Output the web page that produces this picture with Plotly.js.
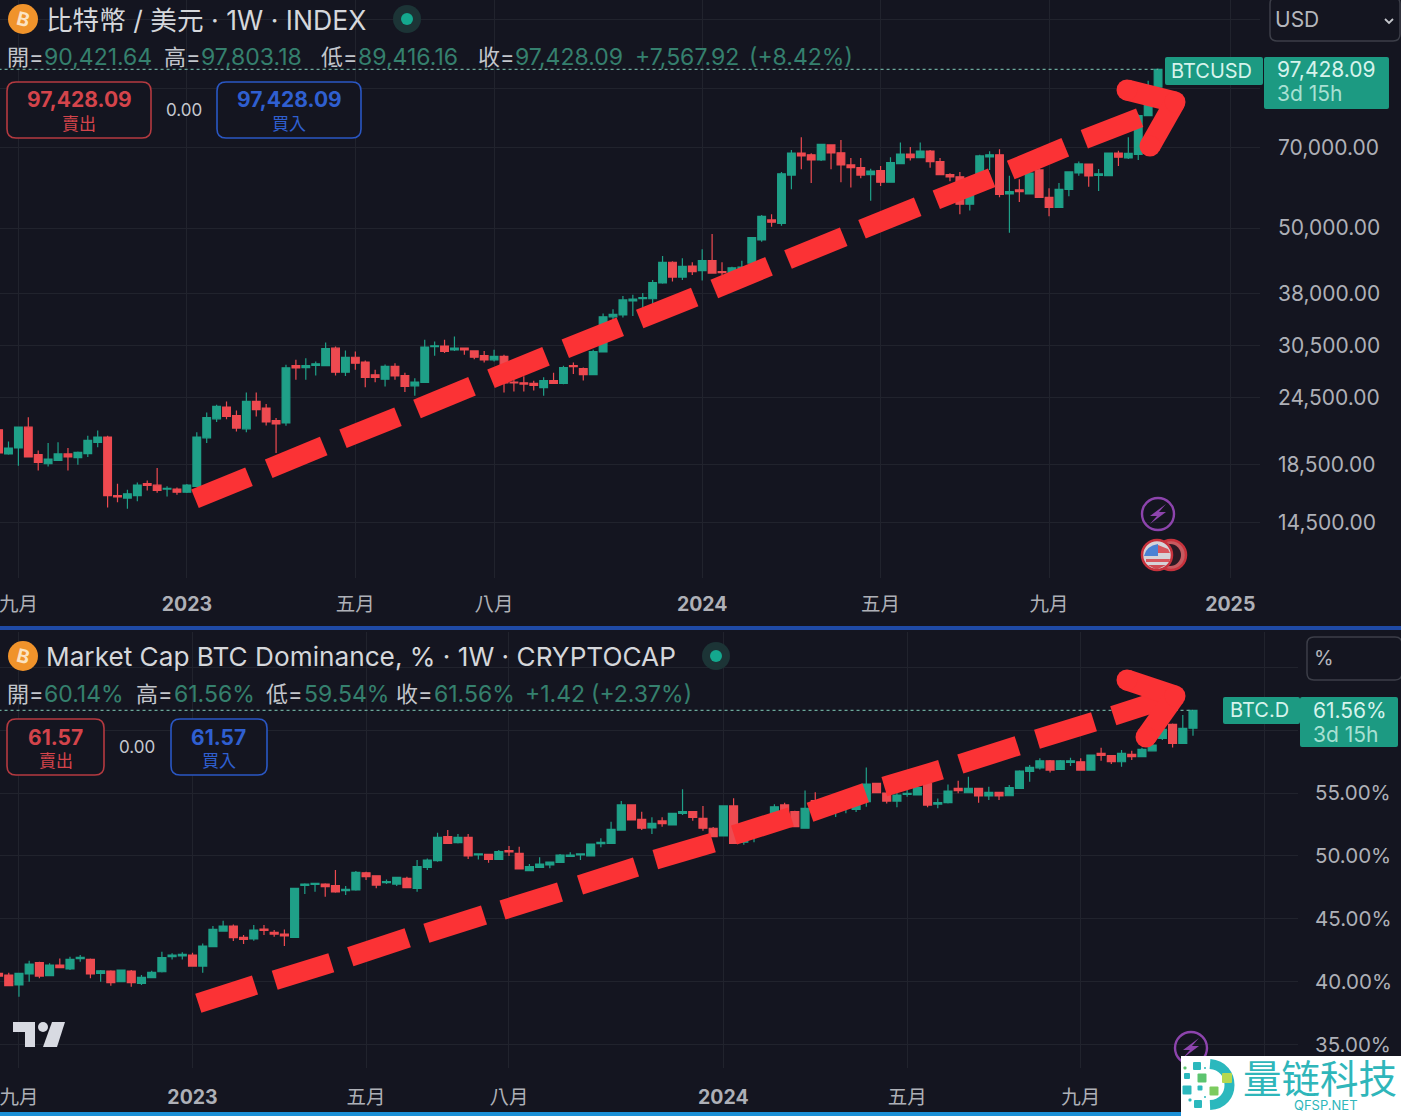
<!DOCTYPE html>
<html><head><meta charset="utf-8">
<script src="https://cdn.plot.ly/plotly-3.0.1.min.js"></script>
<style>html,body{margin:0;padding:0;background:#141520;overflow:hidden}#c{width:1401px;height:1116px}</style>
</head><body><div id="c"></div>
<script>
const weeks = ["2022-08-22","2022-08-29","2022-09-05","2022-09-12","2022-09-19","2022-09-26","2022-10-03","2022-10-10","2022-10-17","2022-10-24","2022-10-31","2022-11-07","2022-11-14","2022-11-21","2022-11-28","2022-12-05","2022-12-12","2022-12-19","2022-12-26",
"2023-01-02","2023-01-09","2023-01-16","2023-01-23","2023-01-30","2023-02-06","2023-02-13","2023-02-20","2023-02-27","2023-03-06","2023-03-13","2023-03-20","2023-03-27","2023-04-03","2023-04-10","2023-04-17","2023-04-24","2023-05-01","2023-05-08","2023-05-15","2023-05-22","2023-05-29","2023-06-05","2023-06-12","2023-06-19","2023-06-26","2023-07-03","2023-07-10","2023-07-17","2023-07-24","2023-07-31","2023-08-07","2023-08-14","2023-08-21","2023-08-28","2023-09-04","2023-09-11","2023-09-18","2023-09-25","2023-10-02","2023-10-09","2023-10-16","2023-10-23","2023-10-30","2023-11-06","2023-11-13","2023-11-20","2023-11-27","2023-12-04","2023-12-11","2023-12-18","2023-12-25",
"2024-01-01","2024-01-08","2024-01-15","2024-01-22","2024-01-29","2024-02-05","2024-02-12","2024-02-19","2024-02-26","2024-03-04","2024-03-11","2024-03-18","2024-03-25","2024-04-01","2024-04-08","2024-04-15","2024-04-22","2024-04-29","2024-05-06","2024-05-13","2024-05-20","2024-05-27","2024-06-03","2024-06-10","2024-06-17","2024-06-24","2024-07-01","2024-07-08","2024-07-15","2024-07-22","2024-07-29","2024-08-05","2024-08-12","2024-08-19","2024-08-26","2024-09-02","2024-09-09","2024-09-16","2024-09-23","2024-09-30","2024-10-07","2024-10-14","2024-10-21","2024-10-28","2024-11-04","2024-11-11","2024-11-18"];

const btcOpen = [21410,19340,19830,21650,19280,18560,18830,19340,19040,19370,20310,20760,16230,16070,16230,17070,16960,16690,16690,
16470,16880,20700,22420,23550,22720,21500,24120,23460,22260,22030,28030,27810,28060,28030,30170,27280,29040,28470,26970,26490,27950,26900,25760,26140,30370,30440,29960,30170,29830,29230,28730,29150,26170,26080,26030,25570,26330,26030,28030,27690,27000,29700,34420,34700,36800,37140,37140,39680,43300,40680,42620,
41810,43590,41630,41460,41800,43120,47560,51730,51000,62460,68530,68000,66560,70900,68570,65170,64420,62600,63630,60600,65560,68220,67200,69100,66100,62600,62000,55250,59900,67400,68000,57700,58670,57700,63820,56850,54500,58820,63000,65400,62400,62330,68530,67130,68100,80200,90421.64];
const btcHigh = [21710,20385,21710,22580,19630,20250,20310,19830,19550,20870,21350,20870,17070,16640,17160,17300,18230,16880,16800,
17050,21180,23020,23790,24120,23220,25040,25040,23870,22490,28130,28730,28930,28530,30910,30370,29870,29750,28650,27550,28160,28330,27220,26600,31250,31030,31250,31700,30250,29900,29830,29960,29350,26410,26820,26300,26690,27220,28030,28400,27810,29960,34900,35530,37580,37750,38030,40200,44470,43500,44050,43300,
45730,48780,43300,42480,43590,48100,52800,52980,63300,69410,73200,68440,71250,71100,72390,67100,67100,64130,64880,67340,71600,70300,71600,69410,67100,62950,63300,60200,68000,69000,69620,62260,61340,65000,64800,59100,60390,63400,66100,65600,64090,68700,69210,73200,80600,92870,97803.18];
const btcLow = [19280,19280,18400,19100,18050,18340,18800,18050,18480,19100,19890,15450,15790,15360,15850,16590,16430,16180,16300,
16420,16830,20250,22130,22390,21260,21180,22640,21810,19420,21780,26410,26410,26900,27950,26900,26850,27550,25610,26140,25680,26410,25100,24700,26080,29230,29550,29830,29350,28810,28400,28530,25040,25160,25160,25260,24700,25950,25920,27080,26330,26950,29620,33510,34340,34550,35700,36350,39570,39910,40200,41040,
40090,41300,41040,40900,41000,42900,47200,50280,50490,58820,64010,60400,66280,64010,60600,59260,61630,56090,59650,60500,65500,66380,67100,64420,62400,60880,52980,53800,59600,63820,56900,49000,55800,57600,56800,52530,54400,57130,62260,59450,58430,62200,64880,66800,66560,80100,89416.16];
const btcClose = [19420,19830,21650,19100,18670,18930,19340,19100,19470,20470,20760,16230,16140,16360,16960,16950,16590,16730,16470,
16970,20760,22540,23620,22640,21560,24120,23290,22130,21950,27780,27780,28030,28250,30120,27280,29040,28330,26670,26690,27950,26850,25680,26170,30300,30480,29750,30170,29960,29040,28730,29150,26080,26080,25950,25810,26330,26030,27810,27910,27000,29750,34420,34780,36960,37070,37320,39760,43300,40680,42570,41630,
43590,41370,41460,42300,42400,48000,52530,51250,62780,68530,67700,66560,71100,68530,65170,64420,62460,63480,60600,65820,68220,67200,69100,66100,62600,62000,55250,59900,67700,68000,57600,58250,58250,62950,56850,54500,58820,63300,65450,62260,62780,68530,67340,68400,80200,90421.64,97428.09];

const domOpen = [40.68,40.55,39.76,40.63,41.53,40.50,41.34,41.03,41.85,41.79,40.68,40.87,40.02,40.87,39.89,40.34,40.81,42.00,42.06,
42.14,41.26,42.80,44.04,44.44,43.54,43.41,44.20,43.94,43.80,43.54,47.67,47.75,47.77,47.64,47.24,47.30,48.67,48.43,47.88,47.77,48.22,47.43,49.10,49.63,51.53,51.06,51.48,50.08,50.13,49.73,50.42,50.21,48.84,49.10,49.29,49.50,49.97,50.08,50.00,50.98,51.00,52.06,54.05,52.91,52.22,52.78,52.46,53.39,53.52,52.99,52.20,
51.59,53.97,51.10,51.80,52.20,52.60,54.05,53.52,52.20,54.40,53.50,53.90,53.90,53.70,54.31,55.76,55.00,54.36,54.89,54.84,55.76,54.12,54.23,55.36,55.02,55.36,54.76,55.05,54.78,55.36,56.71,57.00,57.56,56.87,57.43,57.48,56.82,58.14,57.96,57.48,58.06,57.88,58.35,59.33,60.44,58.94,60.14];
const domHigh = [40.74,40.74,40.74,41.69,41.61,41.48,41.87,42.00,42.14,41.87,40.95,40.92,40.98,40.95,40.55,40.89,42.40,42.27,42.35,
42.32,43.06,44.44,44.86,44.57,43.73,44.52,44.52,44.12,44.17,47.48,47.83,47.88,47.83,48.89,47.61,48.81,48.75,48.48,48.14,48.35,48.36,49.68,49.81,51.85,52.06,51.75,51.75,50.18,50.18,50.48,50.79,50.74,49.36,49.89,49.55,50.16,50.29,50.18,50.98,51.40,52.72,54.37,54.10,53.52,53.07,53.07,53.42,55.29,53.55,53.97,52.30,
54.00,54.58,52.20,52.30,52.90,54.10,54.23,53.60,55.19,55.05,54.10,54.40,54.50,54.50,57.03,55.81,55.20,55.00,55.23,55.60,55.90,54.57,55.68,55.97,56.29,55.40,55.50,55.10,55.63,56.80,57.22,57.75,57.62,57.62,57.80,57.75,58.05,58.59,58.00,58.41,58.35,58.60,59.00,60.30,60.52,61.19,61.56];
const domLow = [40.42,39.65,38.83,40.02,40.29,40.47,41.08,40.95,41.61,40.29,40.02,39.70,39.98,39.62,39.76,40.30,40.76,41.79,41.79,
41.24,40.74,42.76,43.99,43.25,43.01,43.27,43.73,43.59,42.85,43.50,46.98,47.16,46.77,47.09,46.90,47.24,48.09,47.43,47.77,47.61,47.43,47.16,48.89,49.55,50.98,51.00,49.76,49.73,49.47,49.70,50.00,48.94,48.82,49.07,49.02,49.47,49.95,49.68,49.98,50.69,50.98,52.04,52.84,52.06,51.75,52.33,52.43,53.25,52.80,52.01,51.50,
51.55,50.95,50.90,51.10,52.00,52.30,52.50,52.30,52.18,53.50,53.20,53.10,53.40,53.50,53.91,54.97,54.17,53.86,54.70,54.80,53.86,53.78,54.17,54.97,54.97,54.23,54.44,54.44,54.75,55.32,55.89,56.87,56.63,56.82,57.14,56.80,56.80,57.56,57.30,57.08,57.61,57.85,58.30,59.20,58.62,58.88,59.54];
const domClose = [40.47,39.70,40.68,41.42,40.47,41.34,41.13,41.79,41.95,40.63,40.89,39.94,40.95,39.94,40.37,40.76,41.93,42.14,42.19,
41.26,42.85,44.17,44.44,43.51,43.38,44.12,44.10,43.80,43.65,47.43,47.77,47.83,47.56,47.14,47.35,48.70,48.36,47.69,47.96,48.30,47.48,49.15,49.68,51.48,51.00,51.48,50.00,50.16,49.73,50.34,50.32,48.97,49.15,49.36,49.52,50.08,50.08,50.16,50.95,51.08,52.12,54.05,52.86,52.20,52.59,52.57,53.39,53.52,53.07,52.20,51.53,
53.97,51.00,51.90,52.20,52.60,53.90,53.00,52.33,53.78,53.80,54.00,54.20,54.30,54.40,55.71,55.02,54.36,54.84,54.97,55.42,54.04,54.23,55.15,55.18,55.36,54.76,55.05,54.76,55.42,56.74,57.03,57.56,56.82,57.56,57.56,56.82,58.01,57.98,57.48,58.14,57.88,58.46,58.80,60.05,58.94,60.13,61.56];

const priceTicks = [120000,90000,70000,50000,38000,30500,24500,18500,14500];
const priceTickText = ["","","70,000.00","50,000.00","38,000.00","30,500.00","24,500.00","18,500.00","14,500.00"];
const domTicks = [65,60,55,50,45,40,35];
const domTickText = ["","","55.00%","50.00%","45.00%","40.00%","35.00%"];
const timeTicks1 = ["2022-09-05","2023-01-02","2023-05-01","2023-08-07","2024-01-01","2024-05-06","2024-09-02","2025-01-08"];
const timeTicks2 = ["2022-09-05","2023-01-02","2023-05-01","2023-08-07","2024-01-01","2024-05-06","2024-09-02","2025-01-06"];
const timeLabels1 = ["九月","<b>2023</b>","五月","八月","<b>2024</b>","五月","九月","<b>2025</b>"];
const timeLabels2 = ["九月","<b>2023</b>","五月","八月","<b>2024</b>","五月","九月",""];

const W=1401,H=1116;
const BG="#141520",GRID="#21232d",UP="#1fa088",DOWN="#ee4a50",AX="#aeb0b7",VAL="#35806e",LBL="#c3c6cc",ARROW="#fb3235";
const FONT='Inter, "Noto Sans CJK TC", sans-serif';
const px=x=>x/W, py=y=>1-y/H, P=(x,y)=>px(x).toFixed(5)+","+py(y).toFixed(5);

function candle(o,h,l,c,xa,ya){return {type:"candlestick",x:weeks,open:o,high:h,low:l,close:c,xaxis:xa,yaxis:ya,
  increasing:{line:{color:UP,width:1.2},fillcolor:UP},decreasing:{line:{color:DOWN,width:1.2},fillcolor:DOWN},hoverinfo:"skip",showlegend:false};}
function lastLine(v,xa,ya){return {type:"scatter",mode:"lines",x:[weeks[0],weeks[weeks.length-1]],y:[v,v],xaxis:xa,yaxis:ya,
  line:{color:"#6aa89a",width:1.2,dash:"dot"},hoverinfo:"skip",showlegend:false};}
const traces=[lastLine(btcClose[btcClose.length-1],"x","y"),candle(btcOpen,btcHigh,btcLow,btcClose,"x","y"),
  lastLine(domClose[domClose.length-1],"x2","y2"),candle(domOpen,domHigh,domLow,domClose,"x2","y2")];

const shapes=[],ann=[];
function line(x0,y0,x1,y1,color,w){shapes.push({type:"line",xref:"paper",yref:"paper",x0:px(x0),y0:py(y0),x1:px(x1),y1:py(y1),line:{color:color,width:w},layer:"above"});}
function rect(x0,y0,x1,y1,fill,stroke,sw){shapes.push({type:"rect",xref:"paper",yref:"paper",x0:px(x0),y0:py(y0),x1:px(x1),y1:py(y1),fillcolor:fill,line:{color:stroke||fill,width:sw||0},layer:"above"});}
function circ(cx,cy,r,fill,stroke,sw){shapes.push({type:"circle",xref:"paper",yref:"paper",x0:px(cx-r),y0:py(cy-r),x1:px(cx+r),y1:py(cy+r),fillcolor:fill,line:{color:stroke||fill,width:sw||0},layer:"above"});}
function path(d,fill,stroke,sw){shapes.push({type:"path",xref:"paper",yref:"paper",path:d,fillcolor:fill,line:{color:stroke||"rgba(0,0,0,0)",width:sw||0},layer:"above"});}
function rrect(x0,y0,x1,y1,r,fill,stroke,sw){
  path("M"+P(x0+r,y0)+" L"+P(x1-r,y0)+" Q"+P(x1,y0)+" "+P(x1,y0+r)+" L"+P(x1,y1-r)+" Q"+P(x1,y1)+" "+P(x1-r,y1)+" L"+P(x0+r,y1)+" Q"+P(x0,y1)+" "+P(x0,y1-r)+" L"+P(x0,y0+r)+" Q"+P(x0,y0)+" "+P(x0+r,y0)+" Z",fill,stroke,sw);}
function txt(x,y,t,size,color,anchor,extra){ann.push(Object.assign({xref:"paper",yref:"paper",x:px(anchor?x:x-2),y:py(y),text:t,showarrow:false,xanchor:anchor||"left",yanchor:"middle",font:{family:FONT,size:size,color:color},borderpad:0},extra||{}));}

// arrows
const dashTop=[[195,498.7,249,476.7],[268.7,468.7,323.7,446],[343,438.7,398,416.7],[417,409,472,386.3],[491,378.7,546,356.3],[565.3,348.7,620.3,326.7],[639.7,319,694.7,297],[714.3,289,769,266.3],[788,259.6,843.7,236.7],[862,229.3,917.7,206.7],[936.3,199.7,991.7,177.7],[1010.7,170,1065.3,147.3],[1084.3,139.3,1139.7,117.7]];
const dashBot=[[198.3,1003.3,255,985],[274.7,980.3,331.3,962.7],[350.3,956.7,407.7,937.7],[426.4,933.3,484,915],[502.5,910,560,892],[580,885,636,867],[655.3,859.7,713,842.7],[734,835,791,817],[810,812.3,865.7,792.7],[884.3,786.7,941,769.7],[960.3,764,1017.7,745.7],[1037,739.3,1094,721.7],[1113.3,715.7,1165,699]];
dashTop.concat(dashBot).forEach(d=>line(d[0],d[1],d[2],d[3],ARROW,20));
function head(a,b,c){line(a[0],a[1],b[0],b[1],ARROW,21);line(b[0],b[1],c[0],c[1],ARROW,21);
  [a,b,c].forEach(p=>circ(p[0],p[1],10.5,ARROW));}
head([1127,90],[1175,102],[1150,146]);
head([1127,680],[1175,696],[1146,737]);

// pane furniture
rect(0,626,W,630,"#1f4aa6");
rect(0,1112,1181,1116,"#1a8fd6");

// legends
function coin(cy){circ(23,cy,15,"#f0932b");txt(23,cy,"<b>B</b>",19,"#fbe3c3","center",{textangle:14});}
function dot(cx,cy){circ(cx,cy,14,"#1c3436");circ(cx,cy,6,"#14a88e");}
coin(19);dot(407,19);coin(656);dot(716,656);
txt(47,20,"比特幣 / 美元 · 1W · INDEX",26.6,"#d5d7db");
txt(47,656,"Market Cap BTC Dominance, % · 1W · CRYPTOCAP",26.2,"#d5d7db");
const ohlcTopL=[[8,"開="],[165,"高="],[322,"低="],[479,"收="]];
const ohlcTopV=[[45,"90,421.64"],[202,"97,803.18"],[359,"89,416.16"],[516,"97,428.09"],[636,"+7,567.92"],[750,"(+8.42%)"]];
ohlcTopL.forEach(a=>txt(a[0],57,a[1],22,LBL));ohlcTopV.forEach(a=>txt(a[0],57,a[1],23,VAL));
const ohlcBotL=[[8,"開="],[137,"高="],[267,"低="],[397,"收="]];
const ohlcBotV=[[45,"60.14%"],[175,"61.56%"],[305,"59.54%"],[435,"61.56%"],[526,"+1.42"],[592,"(+2.37%)"]];
ohlcBotL.forEach(a=>txt(a[0],694,a[1],22,LBL));ohlcBotV.forEach(a=>txt(a[0],694,a[1],23,VAL));

// buy/sell boxes
function bsBox(x0,x1,y0,y1,c,tc,val,lab){rrect(x0,y0,x1,y1,9,BG,c,1.6);
  txt((x0+x1)/2,y0+18,"<b>"+val+"</b>",21,tc,"center");txt((x0+x1)/2,y0+42,lab,17,tc,"center");}
bsBox(7,151,82,138,"#b53a40","#d4444b","97,428.09","賣出");
bsBox(217,361,82,138,"#2a57c4","#2f5fd0","97,428.09","買入");
txt(184,110,"0.00",17,"#c5c8cf","center");
bsBox(7,104,719,775,"#b53a40","#d4444b","61.57","賣出");
bsBox(171,267,719,775,"#2a57c4","#2f5fd0","61.57","買入");
txt(137,747,"0.00",17,"#c5c8cf","center");

// unit buttons
rrect(1270,-3,1400,41,7,BG,"#3c3e48",1.5);
txt(1276,20,"USD",21,"#b5b7bd");
path("M"+P(1385,19)+" L"+P(1389,23)+" L"+P(1393,19),"rgba(0,0,0,0)","#c5c7cc",1.8);
rrect(1307,637,1402,680,7,BG,"#3c3e48",1.5);
txt(1315,658,"%",20,"#b5b7bd");

// price tags
rrect(1165,57,1263,85,2,"#1c9a82");
rrect(1264,57,1389,109,2,"#1c9a82");
txt(1172,71,"BTCUSD",20,"#d6f3ec");
txt(1278,70,"97,428.09",21,"#d6f3ec");
txt(1278,93,"3d 15h",21,"#a8e0d3");
rrect(1223,697,1300,724,2,"#1c9a82");
rrect(1300,697,1398,747,2,"#1c9a82");
txt(1231,710,"BTC.D",20,"#d6f3ec");
txt(1314,710,"61.56%",21,"#d6f3ec");
txt(1314,734,"3d 15h",21,"#a8e0d3");

// event icons
function bolt(cx,cy){circ(cx,cy,16,"rgba(0,0,0,0)","#8d44ad",2.4);
  path("M"+P(cx+8,cy-10)+" L"+P(cx-8,cy+2)+" L"+P(cx-1,cy+2)+" L"+P(cx-8,cy+10)+" L"+P(cx+8,cy-2)+" L"+P(cx+1,cy-2)+" Z","#8d44ad");}
bolt(1158,514);
circ(1171,555,15,"#c65a60","#c8323c",2.5);
circ(1170,555,11,"#2a1a24");
circ(1157,555,15,"#d5d3d8","#c8323c",2.5);
path("M"+P(1158,545)+" L"+P(1168,549)+" L"+P(1170,553)+" L"+P(1158,553)+" Z","#d8555c");
path("M"+P(1146,559)+" L"+P(1170,559)+" L"+P(1169,562)+" L"+P(1146,562)+" Z","#d8555c");
path("M"+P(1148,565)+" L"+P(1166,565)+" L"+P(1158,569)+" L"+P(1155,569)+" Z","#cf4a52");
path("M"+P(1158,544)+" L"+P(1158,556)+" L"+P(1144,556)+" Q"+P(1146,546)+" "+P(1158,544)+" Z","#4a82d4");
bolt(1191,1048);

// TradingView mark
path("M"+P(13,1022)+" L"+P(35,1022)+" L"+P(35,1047)+" L"+P(25,1047)+" L"+P(25,1032)+" L"+P(13,1032)+" Z","#d8dae2");
circ(43,1027,5,"#d8dae2");
path("M"+P(52,1022)+" L"+P(65,1022)+" L"+P(57,1047)+" L"+P(43,1047)+" Z","#d8dae2");

// watermark
rect(1181,1056,1401,1116,"#ffffff");
path("M"+P(1210,1064)+" C"+P(1236,1066)+" "+P(1236,1104)+" "+P(1210,1105),"rgba(0,0,0,0)","#2bb8bd",10);
const blocks=[[1197,1066,8,"#2bb8bd"],[1187,1076,6,"#2bb8bd"],[1202,1078,9,"#5cc46f"],[1227,1078,10,"#b5d84f"],[1187,1090,9,"#2bb8bd"],[1200,1088,5,"#2bb8bd"],[1214,1091,9,"#7ccb5e"],[1198,1104,8,"#2bb8bd"],[1185,1068,3,"#5cc46f"],[1205,1068,2,"#2bb8bd"],[1190,1100,3,"#2bb8bd"],[1205,1097,2,"#2bb8bd"]];
blocks.forEach(b=>rrect(b[0]-b[2]/2,b[1]-b[2]/2,b[0]+b[2]/2,b[1]+b[2]/2,1,b[3]));
txt(1320,1079,"量链科技",38.5,"#2fb6ba","center");
txt(1326,1105,"QFSP.NET",13,"#2fb6ba","center");

const xBase={type:"date",range:["2022-08-23","2025-01-29"],showgrid:true,gridcolor:GRID,gridwidth:1,zeroline:false,showline:false,ticks:"",
  tickmode:"array",tickfont:{family:FONT,size:19.5,color:AX},rangeslider:{visible:false},fixedrange:true,tickangle:0,ticklabeloverflow:"allow"};
const yBase={side:"right",showgrid:true,gridcolor:GRID,gridwidth:1,zeroline:false,showline:false,ticks:"",tickmode:"array",fixedrange:true};
const layout={width:W,height:H,margin:{l:0,r:0,t:0,b:0,pad:0},paper_bgcolor:BG,plot_bgcolor:BG,showlegend:false,boxgap:0.22,boxgroupgap:0,dragmode:false,hovermode:false,
  xaxis:Object.assign({},xBase,{domain:[0,1260/W],anchor:"y",tickvals:timeTicks1,ticktext:timeLabels1,ticklabelstandoff:12}),
  xaxis2:Object.assign({},xBase,{domain:[0,1298/W],anchor:"y2",tickvals:timeTicks2,ticktext:timeLabels2,ticklabelstandoff:15}),
  yaxis:Object.assign({},yBase,{type:"log",domain:[1-578/H,1],range:[4.06005,5.11518],anchor:"x",tickvals:priceTicks,ticktext:priceTickText,ticklabelstandoff:17,tickfont:{family:FONT,size:21,color:AX}}),
  yaxis2:Object.assign({},yBase,{type:"linear",domain:[1-1068/H,1-632/H],range:[33.17,67.78],anchor:"x2",tickvals:domTicks,ticktext:domTickText,ticklabelstandoff:16,tickfont:{family:FONT,size:20.5,color:AX}}),
  shapes:shapes,annotations:ann};
Plotly.newPlot("c",traces,layout,{displayModeBar:false,responsive:false});
</script></body></html>
